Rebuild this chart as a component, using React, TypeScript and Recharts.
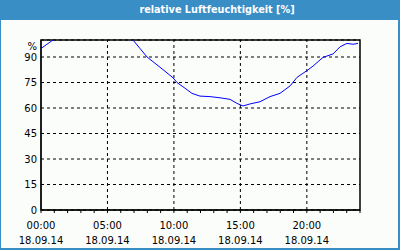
import React from 'react'
import {
  LineChart,
  Line,
  XAxis,
  YAxis,
  CartesianGrid,
  ReferenceLine,
  ReferenceArea,
} from 'recharts'

// hours since 00:00 on 18.09.14
const hours = [
  0, 0.45, 0.9, 1.5, 2.5, 3.5, 4.5, 5.5, 6.3, 6.92, 7.45, 7.98, 8.95, 9.93, 10.23, 10.84,
  11.36, 11.96, 12.72, 13.47, 14.22, 14.75, 15.2, 15.73, 16.48, 17.23, 17.98, 18.74, 19.26,
  20.01, 20.47, 21.22, 21.97, 22.5, 23.02, 23.48, 23.85,
]
const humidity = [
  95, 97.5, 100, 102, 103, 103, 103, 102.5, 101.5, 100, 95, 90, 84, 77.8, 75, 71.6, 68.6, 67,
  66.7, 66, 65.1, 62.7, 61.2, 62.4, 63.7, 66.7, 68.6, 73, 78, 82, 84.7, 89.8, 91.8, 96, 98,
  97.5, 98,
]

const hourTicks = [0, 1, 2, 3, 4, 5, 6, 7, 8, 9, 10, 11, 12, 13, 14, 15, 16, 17, 18, 19, 20, 21, 22, 23, 24]
const labelHours = [0, 5, 10, 15, 20]
const timeLabels = ['00:00', '05:00', '10:00', '15:00', '20:00']
const dateLabel = '18.09.14'
const yTicks = [0, 15, 30, 45, 60, 75, 90, 100]

const data = hours.map((h, i) => ({ h, v: humidity[i] }))

const font = '"DejaVu Sans", Verdana, sans-serif'
const blue = '#3a8ec6'

function TimeTick(props: any) {
  const { x, payload } = props
  const idx = labelHours.indexOf(payload.value)
  if (idx < 0) return null
  return (
    <g>
      <text x={x} y={229} textAnchor="middle" fontSize={10} fontFamily={font} fill="#000">
        {timeLabels[idx]}
      </text>
      <text x={x} y={244} textAnchor="middle" fontSize={10} fontFamily={font} fill="#000">
        {dateLabel}
      </text>
    </g>
  )
}

function ValueTick(props: any) {
  const { x, y, payload } = props
  const unit = payload.value === 100
  return (
    <text
      x={x}
      y={unit ? y + 6 : y}
      dy="0.355em"
      textAnchor="end"
      fontSize={10}
      fontFamily={font}
      fill="#000"
    >
      {unit ? '%' : payload.value}
    </text>
  )
}

export default function App() {
  return (
    <div style={{ position: 'absolute', left: 0, top: 0, width: 400, height: 250, background: blue }}>
      <div
        style={{
          position: 'absolute',
          left: 0,
          top: 0,
          width: 400,
          height: 20,
          lineHeight: '20px',
          color: '#fff',
          fontFamily: font,
          fontWeight: 'bold',
          fontSize: 9.7,
        }}
      >
        <span style={{ position: 'absolute', left: 217, transform: 'translateX(-50%)', whiteSpace: 'nowrap' }}>
          relative Luftfeuchtigkeit [%]
        </span>
      </div>
      <div style={{ position: 'absolute', left: 1, top: 20, width: 397, height: 228, background: '#fbfdfb' }} />
      <div style={{ position: 'absolute', left: 0, top: 0 }}>
        <LineChart width={400} height={250} data={data} margin={{ top: 40, right: 40, bottom: 0, left: 0 }}>
          <CartesianGrid vertical={false} stroke="#000" strokeDasharray="3 3" />
          {labelHours.slice(1).map((h) => (
            <ReferenceLine key={h} x={h} stroke="#000" strokeDasharray="3 3" />
          ))}
          <XAxis
            dataKey="h"
            type="number"
            domain={[0, 24]}
            ticks={hourTicks}
            interval={0}
            height={40}
            stroke="#000"
            tickSize={3}
            tick={<TimeTick />}
          />
          <YAxis
            type="number"
            domain={[0, 100]}
            allowDataOverflow
            ticks={yTicks}
            interval={0}
            width={41}
            stroke="#000"
            tickLine={false}
            tickSize={0}
            tickMargin={4}
            tick={<ValueTick />}
          />
          <ReferenceArea x1={0} x2={24} y1={0} y2={100} fill="none" stroke="#000" strokeWidth={1.5} ifOverflow="visible" />
          <Line
            dataKey="v"
            type="linear"
            stroke="#0000ff"
            strokeWidth={1}
            dot={false}
            isAnimationActive={false}
          />
        </LineChart>
      </div>
    </div>
  )
}
